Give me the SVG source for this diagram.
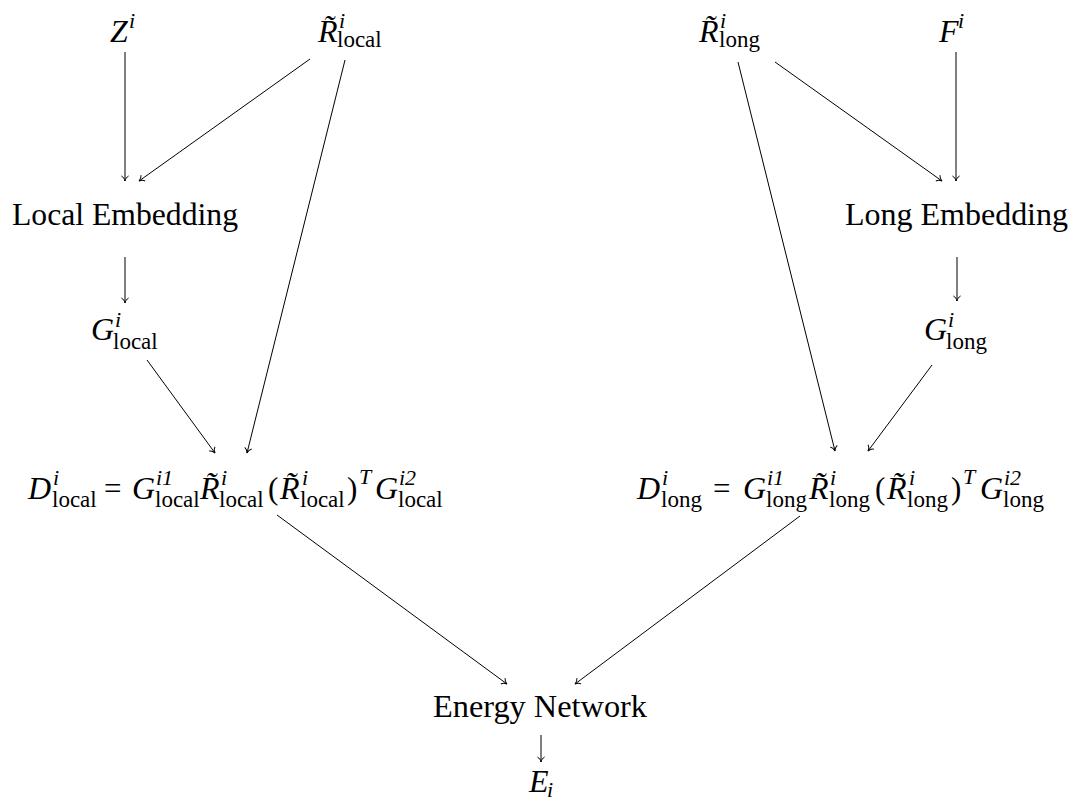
<svg xmlns="http://www.w3.org/2000/svg" width="1080" height="803" viewBox="0 0 1080 803">
<style>
text{font-family:"Liberation Serif","Times New Roman",serif;fill:#000;font-size:31px}
.m{font-size:32px;font-style:italic}
.s{font-size:23px;font-style:normal}
.si{font-size:22px;font-style:italic}
.p{font-size:31px;font-style:normal}
.c line{stroke:#000;stroke-width:1;fill:none}
</style>
<defs>
<marker id="ah" markerUnits="userSpaceOnUse" viewBox="-7 -5 8 10" refX="0" refY="0" markerWidth="8" markerHeight="10" orient="auto">
<path d="M-5,-3.6 C-4,-1.6 -1.8,-0.4 0,0 C-1.8,0.4 -4,1.6 -5,3.6" fill="none" stroke="#000" stroke-width="1"/>
</marker>
</defs>
<rect width="1080" height="803" fill="#fff"/>
<g id="connectors" class="c">
<line x1="125" y1="52" x2="125" y2="181" marker-end="url(#ah)"/>
<line x1="310" y1="59" x2="139" y2="181" marker-end="url(#ah)"/>
<line x1="345" y1="60" x2="247" y2="453" marker-end="url(#ah)"/>
<line x1="125" y1="257" x2="125" y2="303" marker-end="url(#ah)"/>
<line x1="147" y1="360" x2="215" y2="453" marker-end="url(#ah)"/>
<line x1="738" y1="62" x2="835" y2="451" marker-end="url(#ah)"/>
<line x1="775" y1="62" x2="942" y2="181" marker-end="url(#ah)"/>
<line x1="956" y1="52" x2="956" y2="181" marker-end="url(#ah)"/>
<line x1="957" y1="257" x2="957" y2="301" marker-end="url(#ah)"/>
<line x1="932" y1="365" x2="868" y2="451" marker-end="url(#ah)"/>
<line x1="277" y1="515" x2="507" y2="684" marker-end="url(#ah)"/>
<line x1="800" y1="516" x2="575" y2="684" marker-end="url(#ah)"/>
<line x1="541" y1="735" x2="541" y2="762" marker-end="url(#ah)"/>
</g>
<g id="node-Z">
<text class="m"><tspan x="110" y="42">Z</tspan><tspan class="si" x="129" y="28">i</tspan></text>
</g>
<g id="node-Rlocal">
<text class="m"><tspan x="318" y="42">R̃</tspan><tspan class="si" x="339" y="28">i</tspan><tspan class="s" x="337" y="47">local</tspan></text>
</g>
<g id="node-Rlong">
<text class="m"><tspan x="699" y="42">R̃</tspan><tspan class="si" x="720" y="28">i</tspan><tspan class="s" x="719" y="47">long</tspan></text>
</g>
<g id="node-F">
<text class="m"><tspan x="939" y="42">F</tspan><tspan class="si" x="958" y="28">i</tspan></text>
</g>
<g id="node-LocalEmbedding">
<text x="12" y="225" textLength="226" lengthAdjust="spacingAndGlyphs">Local Embedding</text>
</g>
<g id="node-LongEmbedding">
<text x="845" y="225" textLength="223" lengthAdjust="spacingAndGlyphs">Long Embedding</text>
</g>
<g id="node-Glocal">
<text class="m"><tspan x="91" y="340">G</tspan><tspan class="si" x="115" y="327">i</tspan><tspan class="s" x="113" y="349">local</tspan></text>
</g>
<g id="node-Glong">
<text class="m"><tspan x="924" y="340">G</tspan><tspan class="si" x="948" y="327">i</tspan><tspan class="s" x="946" y="349">long</tspan></text>
</g>
<g id="node-Dlocal">
<text class="m"><tspan x="28" y="499">D</tspan><tspan class="si" x="53" y="485">i</tspan><tspan class="s" x="52" y="507">local</tspan><tspan class="p" x="104" y="499">=</tspan><tspan x="132" y="499">G</tspan><tspan class="si" x="156" y="485">i1</tspan><tspan class="s" x="155" y="507">local</tspan><tspan x="200" y="499">R̃</tspan><tspan class="si" x="221" y="485">i</tspan><tspan class="s" x="219" y="507">local</tspan><tspan class="p" x="268" y="499">(</tspan><tspan x="280" y="499">R̃</tspan><tspan class="si" x="302" y="485">i</tspan><tspan class="s" x="300" y="507">local</tspan><tspan class="p" x="347" y="499">)</tspan><tspan class="si" x="359" y="484">T</tspan><tspan x="375" y="499">G</tspan><tspan class="si" x="399" y="485">i2</tspan><tspan class="s" x="398" y="507">local</tspan></text>
</g>
<g id="node-Dlong">
<text class="m"><tspan x="637" y="499">D</tspan><tspan class="si" x="662" y="485">i</tspan><tspan class="s" x="661" y="507">long</tspan><tspan class="p" x="713" y="499">=</tspan><tspan x="743" y="499">G</tspan><tspan class="si" x="767" y="485">i1</tspan><tspan class="s" x="766" y="507">long</tspan><tspan x="809" y="499">R̃</tspan><tspan class="si" x="830" y="485">i</tspan><tspan class="s" x="829" y="507">long</tspan><tspan class="p" x="875" y="499">(</tspan><tspan x="887" y="499">R̃</tspan><tspan class="si" x="909" y="485">i</tspan><tspan class="s" x="907" y="507">long</tspan><tspan class="p" x="951" y="499">)</tspan><tspan class="si" x="963" y="484">T</tspan><tspan x="980" y="499">G</tspan><tspan class="si" x="1004" y="485">i2</tspan><tspan class="s" x="1003" y="507">long</tspan></text>
</g>
<g id="node-Energy">
<text x="540" y="717" text-anchor="middle" textLength="214" lengthAdjust="spacingAndGlyphs">Energy Network</text>
</g>
<g id="node-E">
<text class="m"><tspan x="529" y="792">E</tspan><tspan class="si" x="547" y="797">i</tspan></text>
</g>
</svg>
